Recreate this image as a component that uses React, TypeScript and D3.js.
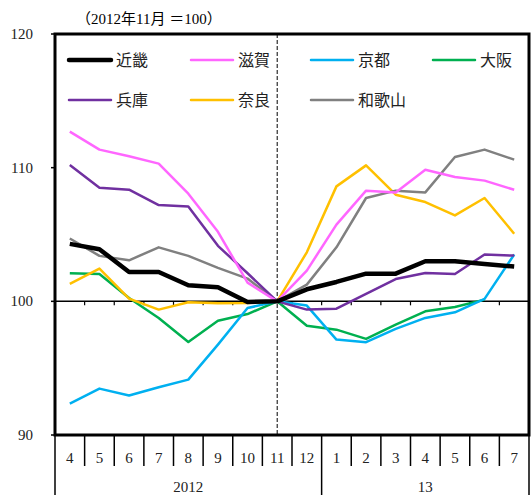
import React, { useRef, useEffect } from 'react';
import * as d3 from 'd3';

const months = ['4', '5', '6', '7', '8', '9', '10', '11', '12', '1', '2', '3', '4', '5', '6', '7'];
const years = [
  { label: '2012', from: 0, to: 9 },
  { label: '13', from: 9, to: 16 },
];
const yTicks = [90, 100, 110, 120];

const kinki = [104.3, 103.9, 102.2, 102.2, 101.2, 101.05, 99.95, 100, 100.9, 101.45, 102.07, 102.07, 103.0, 103.0, 102.8, 102.6];
const shiga = [112.7, 111.35, 110.85, 110.3, 108.05, 105.2, 101.4, 100, 102.3, 105.74, 108.28, 108.15, 109.85, 109.3, 109.03, 108.35];
const kyoto = [92.35, 93.47, 92.95, 93.57, 94.14, 96.76, 99.5, 100, 99.68, 97.14, 96.94, 97.94, 98.76, 99.18, 100.18, 103.5];
const osaka = [102.1, 102.05, 100.25, 98.75, 96.96, 98.55, 99.05, 100, 98.18, 97.88, 97.19, 98.26, 99.25, 99.58, 100.13, null];
const hyogo = [110.2, 108.5, 108.35, 107.2, 107.1, 104.15, 102.1, 100, 99.38, 99.45, 100.55, 101.67, 102.12, 102.05, 103.5, 103.42];
const nara = [101.3, 102.45, 100.2, 99.38, 99.93, 99.85, 99.88, 100, 103.67, 108.6, 110.17, 107.98, 107.43, 106.43, 107.73, 105.06];
const wakayama = [104.7, 103.4, 103.07, 104.04, 103.4, 102.5, 101.7, 100, 101.25, 104.04, 107.73, 108.28, 108.15, 110.8, 111.35, 110.6];

const series = [
  { name: '近畿', values: kinki, color: '#000000', width: 4.5 },
  { name: '滋賀', values: shiga, color: '#FF66FF', width: 2.5 },
  { name: '京都', values: kyoto, color: '#00B0F0', width: 2.5 },
  { name: '大阪', values: osaka, color: '#00B050', width: 2.5 },
  { name: '兵庫', values: hyogo, color: '#7030A0', width: 2.5 },
  { name: '奈良', values: nara, color: '#FFC000', width: 2.5 },
  { name: '和歌山', values: wakayama, color: '#808080', width: 2.5 },
];

const serif = '"Liberation Serif", "DejaVu Serif", "Noto Sans CJK JP", serif';
const sans = '"Noto Sans CJK JP", "Noto Sans", sans-serif';

export default function App() {
  const ref = useRef<SVGSVGElement>(null);

  useEffect(() => {
    const svg = d3.select(ref.current);
    svg.selectAll('*').remove();

    const left = 55, right = 529, top = 34, bottom = 435;

    const x = d3.scaleBand<number>()
      .domain(d3.range(months.length))
      .range([left, right]);
    const cx = (i: number) => (x(i) as number) + x.bandwidth() / 2;
    const y = d3.scaleLinear().domain([90, 120]).range([bottom, top]);

    // title
    svg.append('text')
      .attr('x', 76).attr('y', 24)
      .attr('font-family', serif).attr('font-size', 15)
      .text('（2012年11月 ＝100）');

    // y tick labels + ticks
    const yg = svg.append('g');
    yTicks.forEach(t => {
      yg.append('text')
        .attr('x', 33).attr('y', y(t) + 5)
        .attr('text-anchor', 'end')
        .attr('font-family', serif).attr('font-size', 15)
        .attr('fill', '#222')
        .text(t);
      yg.append('line')
        .attr('x1', left - 4).attr('x2', left)
        .attr('y1', y(t)).attr('y2', y(t))
        .attr('stroke', '#000').attr('stroke-width', 1.5);
    });

    // 100 baseline with ticks
    svg.append('line')
      .attr('x1', left).attr('x2', right)
      .attr('y1', y(100)).attr('y2', y(100))
      .attr('stroke', '#000').attr('stroke-width', 1.5);
    d3.range(1, months.length).forEach(i => {
      svg.append('line')
        .attr('x1', x(i) as number).attr('x2', x(i) as number)
        .attr('y1', y(100)).attr('y2', y(100) + 4)
        .attr('stroke', '#000').attr('stroke-width', 1.2);
    });

    // dashed separator at Nov 2012
    svg.append('line')
      .attr('x1', cx(7)).attr('x2', cx(7))
      .attr('y1', top).attr('y2', bottom)
      .attr('stroke', '#000').attr('stroke-width', 1)
      .attr('stroke-dasharray', '4,2');

    // lines
    const line = d3.line<number | null>()
      .defined(d => d != null)
      .x((d, i) => cx(i))
      .y(d => y(d as number));

    const order = [3, 2, 5, 6, 4, 1, 0];
    order.forEach(k => {
      const s = series[k];
      svg.append('path')
        .datum(s.values)
        .attr('d', line)
        .attr('fill', 'none')
        .attr('stroke', s.color)
        .attr('stroke-width', s.width)
        .attr('stroke-linejoin', 'round');
    });

    // legend
    const legX = [69, 191, 311, 433];
    const legY = [60, 100];
    series.forEach((s, i) => {
      const col = i % 4, row = Math.floor(i / 4);
      const lx = legX[col], ly = legY[row];
      svg.append('line')
        .attr('x1', lx).attr('x2', lx + 42)
        .attr('y1', ly).attr('y2', ly)
        .attr('stroke', s.color)
        .attr('stroke-width', s.width)
        .attr('stroke-linecap', 'round');
      svg.append('text')
        .attr('x', lx + 47).attr('y', ly + 6)
        .attr('font-family', sans).attr('font-size', 16)
        .attr('fill', '#222')
        .text(s.name);
    });

    // plot border
    svg.append('rect')
      .attr('x', left).attr('y', top)
      .attr('width', right - left).attr('height', bottom - top)
      .attr('fill', 'none')
      .attr('stroke', '#000').attr('stroke-width', 3);

    // category table below
    const cat = svg.append('g');
    d3.range(months.length + 1).forEach(i => {
      const xx = i < months.length ? (x(i) as number) : right;
      const isYear = years.some(yr => yr.from === i) || i === months.length;
      cat.append('line')
        .attr('x1', xx).attr('x2', xx)
        .attr('y1', bottom).attr('y2', isYear ? 495 : 466)
        .attr('stroke', '#000').attr('stroke-width', 1.5);
    });
    months.forEach((m, i) => {
      cat.append('text')
        .attr('x', cx(i)).attr('y', 463)
        .attr('text-anchor', 'middle')
        .attr('font-family', serif).attr('font-size', 15)
        .attr('fill', '#222')
        .text(m);
    });
    years.forEach(yr => {
      const a = x(yr.from) as number;
      const b = yr.to < months.length ? (x(yr.to) as number) : right;
      cat.append('text')
        .attr('x', (a + b) / 2).attr('y', 492)
        .attr('text-anchor', 'middle')
        .attr('font-family', serif).attr('font-size', 15)
        .attr('fill', '#222')
        .text(yr.label);
    });
  }, []);

  return (
    <svg ref={ref} width={531} height={495}
      style={{ position: 'absolute', left: 0, top: 0, background: '#fff' }} />
  );
}
